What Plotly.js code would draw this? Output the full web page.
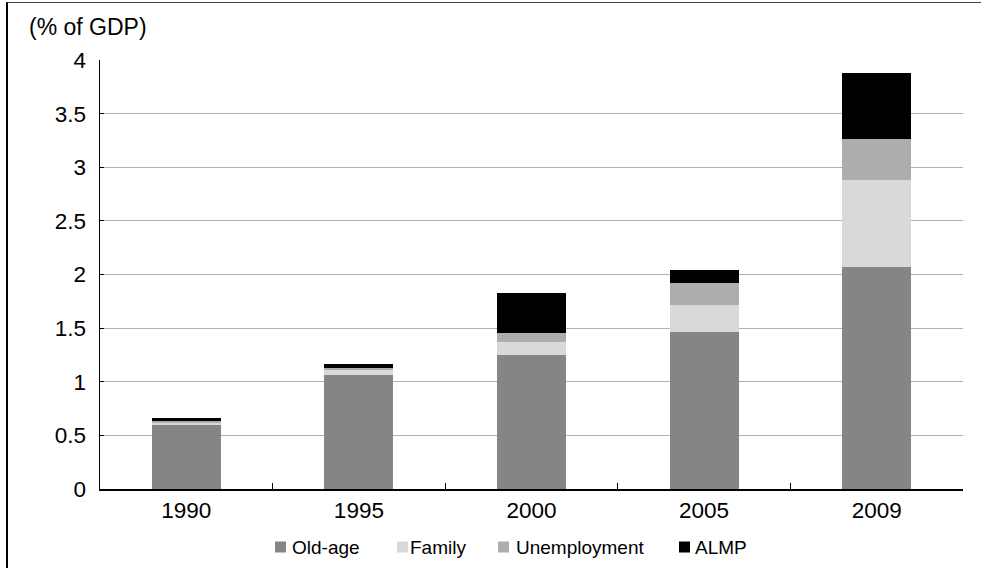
<!DOCTYPE html>
<html>
<head>
<meta charset="utf-8">
<script src="https://cdn.plot.ly/plotly-3.0.1.min.js"></script>
<style>
  html, body { margin: 0; padding: 0; background: #fff; }
  #chart { width: 981px; height: 568px; }
  #frame { position: absolute; left: 6px; top: 2px; width: 975px; height: 566px;
           border-left: 2px solid #000; border-top: 1px solid #444; pointer-events: none; box-sizing: border-box; }
</style>
</head>
<body>
<div id="chart"></div>
<div id="frame"></div>
<script>
const years = ['1990', '1995', '2000', '2005', '2009'];
const oldAge = [0.60, 1.06, 1.25, 1.46, 2.07];
const family = [0.02, 0.05, 0.12, 0.26, 0.815];
const unemployment = [0.01, 0.02, 0.08, 0.20, 0.38];
const almp = [0.03, 0.04, 0.38, 0.12, 0.61];

const seriesNames = ['Old-age', 'Family', 'Unemployment', 'ALMP'];
const seriesColors = ['#858585', '#d9d9d9', '#adadad', '#000000'];
const seriesValues = [oldAge, family, unemployment, almp];

const font = 'Liberation Sans, Arial, Helvetica, sans-serif';

// plot area in pixels (for placing legend / title in paper coordinates)
const M = { l: 100, r: 18, t: 60, b: 79 };
const W = 981, H = 568;
const pw = W - M.l - M.r, ph = H - M.t - M.b;
const px2x = px => (px - M.l) / pw;
const py2y = py => (H - M.b - py) / ph;

const traces = seriesValues.map((vals, i) => ({
  type: 'bar',
  name: seriesNames[i],
  x: years,
  y: vals,
  marker: { color: seriesColors[i], line: { width: 0 } },
  hoverinfo: 'x+y+name',
  showlegend: false
}));

// hand-built legend matching the reference spacing
const legendSwatchX = [275, 397, 498, 679];
const legendTextX = [290, 408, 514, 693];
const legendY = 547;
const shapes = seriesNames.map((n, i) => ({
  type: 'rect', xref: 'paper', yref: 'paper',
  x0: px2x(legendSwatchX[i]), x1: px2x(legendSwatchX[i] + 11),
  y0: py2y(legendY + 5.5), y1: py2y(legendY - 5.5),
  fillcolor: seriesColors[i], line: { width: 0 }
}));
const annotations = seriesNames.map((n, i) => ({
  text: n, xref: 'paper', yref: 'paper',
  x: px2x(legendTextX[i]), xanchor: 'left',
  y: py2y(legendY), yanchor: 'middle',
  showarrow: false,
  font: { family: font, size: 19, color: '#000' }
}));
annotations.push({
  text: '(% of GDP)',
  xref: 'paper', yref: 'paper',
  x: px2x(27), xanchor: 'left',
  y: py2y(27), yanchor: 'middle',
  showarrow: false,
  font: { family: font, size: 23, color: '#000' }
});

const layout = {
  width: W,
  height: H,
  barmode: 'stack',
  bargap: 0.6,
  margin: M,
  showlegend: false,
  paper_bgcolor: '#ffffff',
  plot_bgcolor: '#ffffff',
  font: { family: font, color: '#000', size: 22 },
  xaxis: {
    type: 'category',
    automargin: false,
    showline: true, linecolor: '#000', linewidth: 1.5,
    ticks: 'inside', tickson: 'boundaries', ticklen: 6, tickcolor: '#000', tickwidth: 1,
    ticklabelstandoff: 0,
    tickfont: { family: font, size: 22.5, color: '#000' },
    showgrid: false, zeroline: false
  },
  yaxis: {
    automargin: false,
    range: [0, 4], dtick: 0.5, tick0: 0,
    showline: true, linecolor: '#000', linewidth: 1.5,
    ticks: 'inside', ticklen: 4, tickcolor: '#000',
    ticklabelstandoff: 8,
    tickfont: { family: font, size: 22.5, color: '#000' },
    showgrid: true, gridcolor: '#b0b0b0', gridwidth: 1,
    zeroline: false
  },
  shapes: shapes,
  annotations: annotations
};

Plotly.newPlot('chart', traces, layout, { displayModeBar: false, staticPlot: true });
</script>
</body>
</html>
